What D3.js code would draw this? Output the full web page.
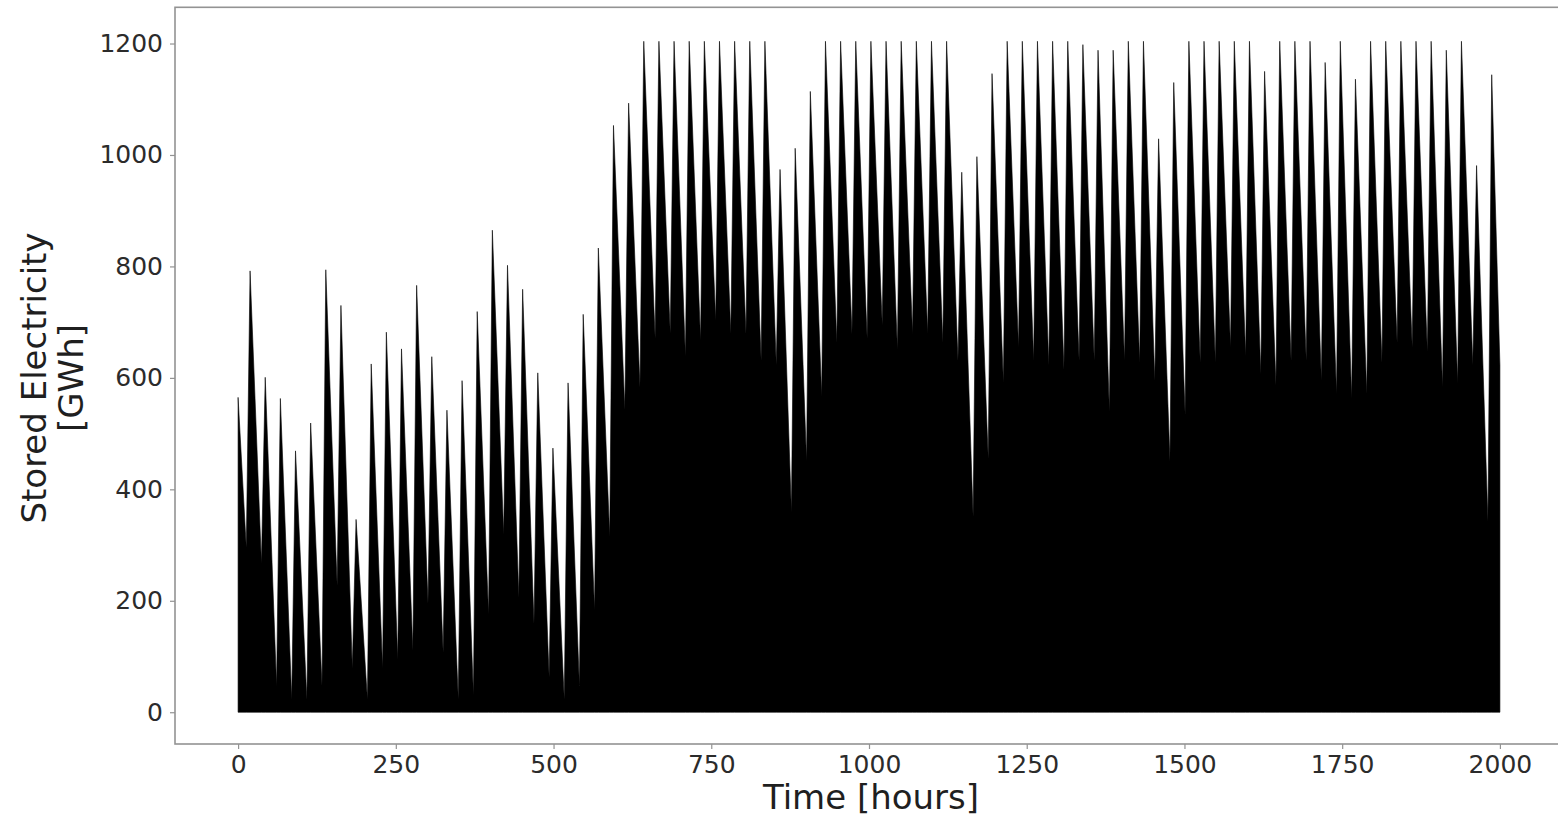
<!DOCTYPE html>
<html>
<head>
<meta charset="utf-8">
<script src="https://cdn.jsdelivr.net/npm/d3@7"></script>
<style>
  body { margin: 0; background: #fff; }
  text { font-family: "DejaVu Sans", sans-serif; }
</style>
</head>
<body>
<div id="container"></div>
<script>
let width = 1558;
let height = 817;

// storage level at the first and last hour of the run
var startValue = 565;
var endValue = 623;

// one value per 24 h cycle: lowest point (charging starts) and highest point
var troughValues = [
  295, 267, 47, 23, 23, 47, 227, 79, 23, 79, 95, 111, 195, 107, 23, 31, 175, 319, 207, 159,
  63, 23, 47, 183, 315, 543, 583, 671, 679, 639, 667, 703, 679, 679, 631, 623, 359, 451, 567, 663,
  679, 671, 695, 651, 679, 679, 663, 631, 351, 455, 591, 655, 631, 623, 615, 631, 631, 539, 631, 627,
  595, 451, 535, 627, 627, 655, 639, 607, 587, 631, 631, 595, 571, 563, 571, 627, 663, 655, 647, 583,
  591, 623, 343
];
var peakValues = [
  792, 601, 563, 469, 519, 794, 730, 346, 625, 682, 652, 766, 638, 542, 595, 719, 865, 802, 759, 609,
  474, 591, 714, 833, 1053, 1093, 1204, 1204, 1204, 1204, 1204, 1204, 1204, 1204, 1204, 974, 1012, 1114, 1204, 1204,
  1204, 1204, 1204, 1204, 1204, 1204, 1204, 969, 997, 1146, 1204, 1204, 1204, 1204, 1204, 1198, 1188, 1188, 1204, 1204,
  1029, 1130, 1204, 1204, 1204, 1204, 1204, 1150, 1204, 1204, 1204, 1166, 1204, 1136, 1204, 1204, 1204, 1204, 1204, 1188,
  1204, 981, 1144
];

var xTicks = [0, 250, 500, 750, 1000, 1250, 1500, 1750, 2000];
var yTicks = [0, 200, 400, 600, 800, 1000, 1200];

// hour of the day the level bottoms out and tops out
var troughHour = 13;
var peakHour = 19;
var lastHour = 2000;

// series of turning points, hour by hour
var series = [{h: 0, v: startValue}];
troughValues.forEach(function(t, k) {
  series.push({h: troughHour + 24 * k, v: t});
  series.push({h: peakHour + 24 * k, v: peakValues[k]});
});
series.push({h: lastHour, v: endValue});

let svg = d3.select("#container").append("svg")
  .attr("width", width)
  .attr("height", height);

var plotLeft = 175, plotRight = 1563, plotTop = 7.3, plotBottom = 744;

let x = d3.scaleLinear().domain([-100, 2100]).range([plotLeft, plotRight]);
let y = d3.scaleLinear().domain([-57, 1265]).range([plotBottom, plotTop]);

let area = d3.area()
  .x(function(d) { return x(d.h); })
  .y0(y(0))
  .y1(function(d) { return y(d.v); });

svg.append("path")
  .datum(series)
  .attr("d", area)
  .attr("fill", "#000")
  .attr("stroke", "#000")
  .attr("stroke-width", 0.6)
  .attr("stroke-linejoin", "round");

// frame
var spineColor = "#939393";
svg.append("rect")
  .attr("x", plotLeft).attr("y", plotTop)
  .attr("width", plotRight - plotLeft).attr("height", plotBottom - plotTop)
  .attr("fill", "none")
  .attr("stroke", spineColor)
  .attr("stroke-width", 1.6);

let xAxis = svg.append("g")
  .attr("transform", "translate(0," + plotBottom + ")")
  .call(d3.axisBottom(x).tickValues(xTicks).tickSize(5).tickPadding(6).tickFormat(d3.format("d")));
let yAxis = svg.append("g")
  .attr("transform", "translate(" + plotLeft + ",0)")
  .call(d3.axisLeft(y).tickValues(yTicks).tickSize(5).tickPadding(7).tickFormat(d3.format("d")));

[xAxis, yAxis].forEach(function(a) {
  a.select(".domain").remove();
  a.selectAll(".tick line").attr("stroke", spineColor).attr("stroke-width", 1.2);
  a.selectAll(".tick text")
    .attr("fill", "#2b2b2b")
    .style("font-size", "25px")
    .style("font-family", "'DejaVu Sans', sans-serif");
});

svg.append("text")
  .attr("x", (plotLeft + plotRight) / 2 + 2)
  .attr("y", 809)
  .attr("text-anchor", "middle")
  .attr("fill", "#1f1f1f")
  .style("font-size", "34px")
  .text("Time [hours]");

let ylab = svg.append("text")
  .attr("transform", "translate(46,378) rotate(-90)")
  .attr("text-anchor", "middle")
  .attr("fill", "#1f1f1f")
  .style("font-size", "34px");
ylab.append("tspan").attr("x", 0).attr("y", 0).text("Stored Electricity");
ylab.append("tspan").attr("x", 0).attr("y", 37).text("[GWh]");
</script>
</body>
</html>
